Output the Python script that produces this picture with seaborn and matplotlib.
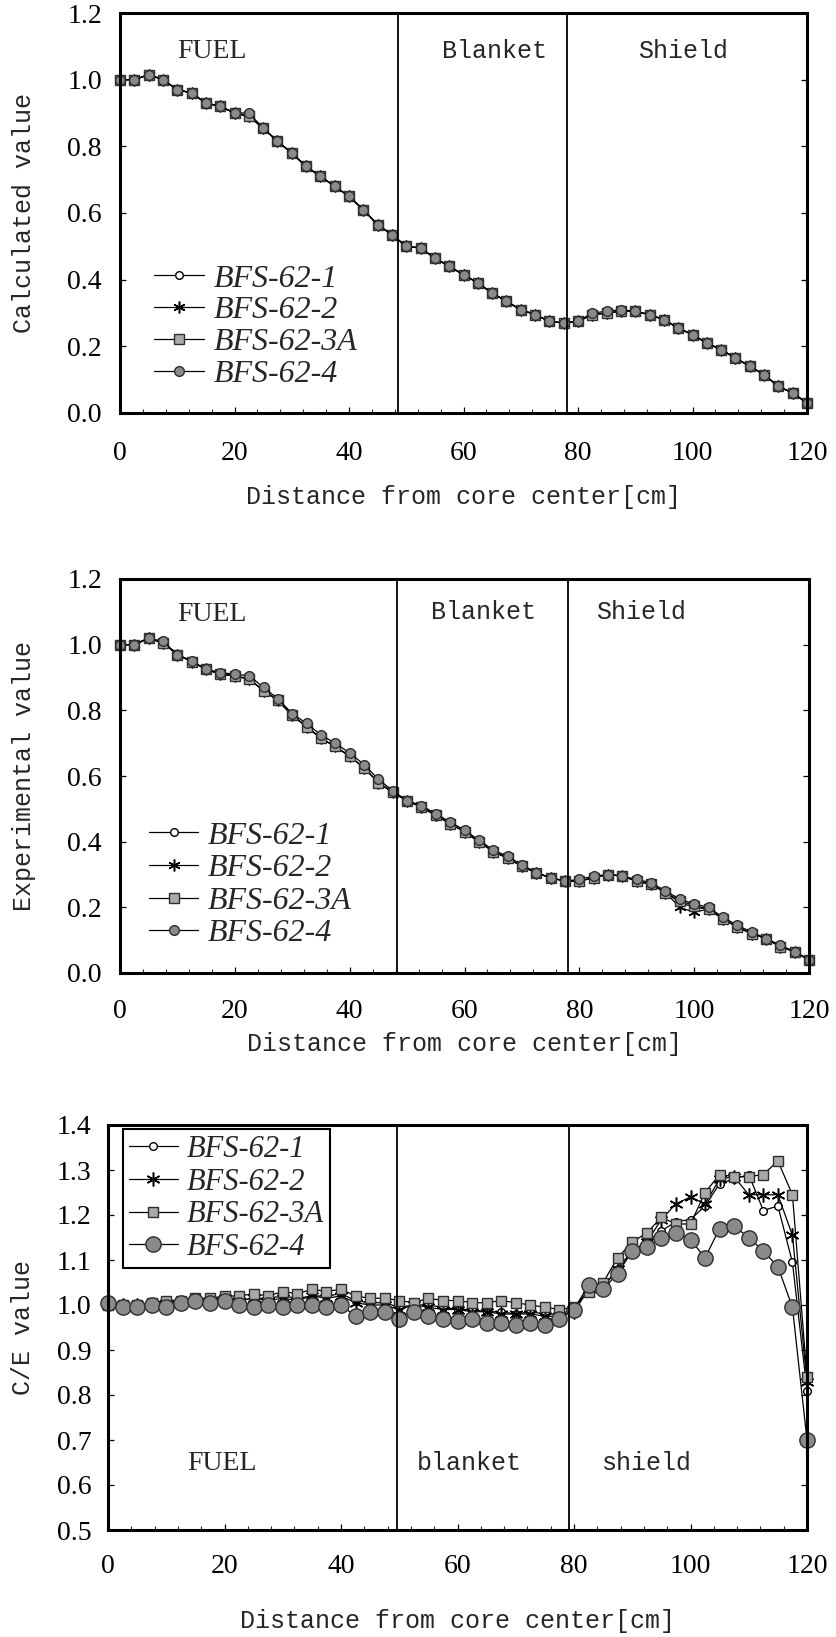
import matplotlib
matplotlib.use("Agg")
import matplotlib.pyplot as plt
import seaborn as sns
from matplotlib.ticker import MultipleLocator, FormatStrFormatter

# ---------------- data ----------------
x_cm = [0, 2.5, 5, 7.5, 10, 12.5, 15, 17.5, 20, 22.5, 25, 27.5, 30, 32.5, 35, 37.5,
        40, 42.5, 45, 47.5, 50, 52.5, 55, 57.5, 60, 62.5, 65, 67.5, 70, 72.5, 75, 77.5,
        80, 82.5, 85, 87.5, 90, 92.5, 95, 97.5, 100, 102.5, 105, 107.5, 110, 112.5, 115,
        117.5, 120]

series_names = ["BFS-62-1", "BFS-62-2", "BFS-62-3A", "BFS-62-4"]

# Calculated value
calc_1 = [1.00, 1.00, 1.015, 1.00, 0.97, 0.96, 0.93, 0.92, 0.90, 0.89, 0.855, 0.815, 0.78, 0.74,
          0.71, 0.68, 0.65, 0.61, 0.565, 0.535, 0.50, 0.495, 0.465, 0.44, 0.415, 0.39, 0.36,
          0.335, 0.31, 0.295, 0.275, 0.27, 0.275, 0.295, 0.30, 0.305, 0.305, 0.295, 0.28,
          0.255, 0.235, 0.21, 0.19, 0.165, 0.14, 0.115, 0.08, 0.06, 0.03]
calc_2 = [1.00, 1.00, 1.015, 1.00, 0.97, 0.96, 0.93, 0.92, 0.90, 0.89, 0.855, 0.815, 0.78, 0.74,
          0.71, 0.68, 0.65, 0.61, 0.565, 0.535, 0.50, 0.495, 0.465, 0.44, 0.415, 0.39, 0.36,
          0.335, 0.31, 0.295, 0.275, 0.27, 0.275, 0.295, 0.30, 0.305, 0.305, 0.295, 0.28,
          0.255, 0.235, 0.21, 0.19, 0.165, 0.14, 0.115, 0.08, 0.06, 0.03]
calc_3A = [1.00, 1.00, 1.015, 1.00, 0.97, 0.96, 0.93, 0.92, 0.90, 0.89, 0.855, 0.815, 0.78, 0.74,
           0.71, 0.68, 0.65, 0.61, 0.565, 0.535, 0.50, 0.495, 0.465, 0.44, 0.415, 0.39, 0.36,
           0.335, 0.31, 0.295, 0.275, 0.27, 0.275, 0.295, 0.30, 0.305, 0.305, 0.295, 0.28,
           0.255, 0.235, 0.21, 0.19, 0.165, 0.14, 0.115, 0.08, 0.06, 0.03]
calc_4 = [1.00, 1.00, 1.015, 1.00, 0.97, 0.96, 0.93, 0.92, 0.90, 0.90, 0.855, 0.815, 0.78, 0.74,
          0.71, 0.68, 0.65, 0.61, 0.565, 0.535, 0.50, 0.495, 0.465, 0.44, 0.415, 0.39, 0.36,
          0.335, 0.31, 0.295, 0.275, 0.27, 0.275, 0.30, 0.305, 0.31, 0.305, 0.295, 0.28,
          0.255, 0.235, 0.21, 0.19, 0.165, 0.14, 0.115, 0.08, 0.06, 0.03]

# Experimental value
exp_1 = [1.00, 1.00, 1.02, 1.005, 0.97, 0.948, 0.925, 0.91, 0.905, 0.895, 0.86, 0.83, 0.785,
         0.75, 0.715, 0.69, 0.66, 0.625, 0.58, 0.55, 0.525, 0.505, 0.48, 0.455, 0.43, 0.40,
         0.37, 0.35, 0.325, 0.305, 0.29, 0.28, 0.28, 0.29, 0.30, 0.295, 0.28, 0.27, 0.245,
         0.215, 0.20, 0.195, 0.165, 0.14, 0.12, 0.105, 0.08, 0.065, 0.04]
exp_2 = [1.00, 1.00, 1.02, 1.005, 0.97, 0.948, 0.925, 0.91, 0.905, 0.895, 0.86, 0.83, 0.785,
         0.75, 0.715, 0.69, 0.66, 0.625, 0.58, 0.55, 0.525, 0.505, 0.48, 0.455, 0.43, 0.40,
         0.37, 0.35, 0.325, 0.305, 0.29, 0.28, 0.28, 0.29, 0.30, 0.295, 0.28, 0.27, 0.245,
         0.20, 0.185, 0.195, 0.165, 0.14, 0.12, 0.105, 0.08, 0.065, 0.04]
exp_3A = [1.00, 1.00, 1.02, 1.005, 0.97, 0.948, 0.925, 0.91, 0.905, 0.895, 0.86, 0.83, 0.785,
          0.75, 0.715, 0.69, 0.66, 0.625, 0.58, 0.55, 0.525, 0.505, 0.48, 0.455, 0.43, 0.40,
          0.37, 0.35, 0.325, 0.305, 0.29, 0.28, 0.28, 0.29, 0.30, 0.295, 0.28, 0.27, 0.245,
          0.22, 0.205, 0.195, 0.165, 0.14, 0.12, 0.105, 0.08, 0.065, 0.04]
exp_4 = [1.00, 1.00, 1.02, 1.01, 0.97, 0.95, 0.925, 0.915, 0.91, 0.905, 0.87, 0.835, 0.79,
         0.76, 0.725, 0.70, 0.67, 0.635, 0.59, 0.555, 0.525, 0.51, 0.485, 0.46, 0.435, 0.405,
         0.375, 0.355, 0.33, 0.305, 0.29, 0.28, 0.285, 0.295, 0.30, 0.295, 0.285, 0.275, 0.25,
         0.225, 0.21, 0.20, 0.17, 0.145, 0.125, 0.105, 0.085, 0.065, 0.04]

# C/E value
ce_1 = [1.00, 1.00, 1.00, 1.005, 1.005, 1.01, 1.01, 1.015, 1.015, 1.01, 1.015, 1.015, 1.02,
        1.015, 1.02, 1.02, 1.025, 1.01, 1.005, 1.005, 0.995, 1.00, 1.00, 0.995, 0.99, 0.99,
        0.985, 0.985, 0.98, 0.985, 0.98, 0.98, 0.99, 1.035, 1.04, 1.08, 1.12, 1.14, 1.165,
        1.185, 1.19, 1.22, 1.27, 1.28, 1.29, 1.21, 1.22, 1.095, 0.81]
ce_2 = [1.00, 1.00, 1.00, 1.00, 1.005, 1.005, 1.01, 1.01, 1.015, 1.01, 1.015, 1.01, 1.015,
        1.01, 1.02, 1.015, 1.02, 1.005, 1.00, 1.00, 0.99, 1.00, 0.995, 0.99, 0.99, 0.985,
        0.985, 0.98, 0.98, 0.98, 0.975, 0.975, 0.985, 1.035, 1.04, 1.08, 1.12, 1.14, 1.19,
        1.225, 1.24, 1.225, 1.28, 1.285, 1.245, 1.245, 1.245, 1.155, 0.83]
ce_3A = [1.00, 1.00, 1.00, 1.005, 1.01, 1.01, 1.015, 1.015, 1.02, 1.02, 1.025, 1.02, 1.03,
         1.025, 1.035, 1.03, 1.035, 1.02, 1.015, 1.015, 1.01, 1.005, 1.015, 1.01, 1.01, 1.005,
         1.005, 1.01, 1.005, 1.00, 0.995, 0.99, 0.995, 1.03, 1.05, 1.105, 1.14, 1.16, 1.195,
         1.18, 1.18, 1.25, 1.29, 1.285, 1.285, 1.29, 1.32, 1.245, 0.84]
ce_4 = [1.005, 0.995, 0.995, 1.00, 0.995, 1.005, 1.01, 1.005, 1.01, 1.00, 0.995, 1.00, 0.995,
        1.00, 1.00, 0.995, 1.00, 0.975, 0.985, 0.985, 0.97, 0.985, 0.975, 0.97, 0.965, 0.97,
        0.96, 0.96, 0.955, 0.96, 0.955, 0.97, 0.99, 1.045, 1.035, 1.07, 1.12, 1.13, 1.15,
        1.16, 1.145, 1.105, 1.17, 1.175, 1.15, 1.12, 1.085, 0.995, 0.70]

y_ticks_top = [0.0, 0.2, 0.4, 0.6, 0.8, 1.0, 1.2]
y_ticks_ce = [0.5, 0.6, 0.7, 0.8, 0.9, 1.0, 1.1, 1.2, 1.3, 1.4]
x_ticks = [0, 20, 40, 60, 80, 100, 120]

x_label = "Distance from core center[cm]"
y_labels = ["Calculated value", "Experimental value", "C/E value"]
region_labels_top = ["FUEL", "Blanket", "Shield"]
region_labels_ce = ["FUEL", "blanket", "shield"]

# ---------------- style ----------------
sns.set_theme(style="white")
plt.rcParams['font.family'] = ['Liberation Serif', 'DejaVu Sans']
MONO = ['Liberation Mono', 'DejaVu Sans Mono']

fig = plt.figure(figsize=(8.36, 16.37), dpi=100)
W, H = 836.0, 1637.0


def add_axes(left, right, top, bottom):
    return fig.add_axes([left / W, 1 - bottom / H, (right - left) / W, (bottom - top) / H])


ax1 = add_axes(120, 807, 13, 413)
ax2 = add_axes(120, 809, 579, 973)
ax3 = add_axes(108, 807, 1125, 1530)

GREY_SQ = '#a9a9a9'
GREY_CI = '#8a8a8a'
EDGE = '#2e2e2e'


def marker_styles(big):
    return {
        "BFS-62-1": dict(marker='o', markersize=5.5, markerfacecolor='white',
                         markeredgecolor='black', markeredgewidth=1.0),
        "BFS-62-2": dict(marker=(6, 2, 0), markersize=10 if big else 8.5,
                         markerfacecolor='black', markeredgecolor='black', markeredgewidth=1.1),
        "BFS-62-3A": dict(marker='s', markersize=6.5 if big else 7, markerfacecolor=GREY_SQ,
                          markeredgecolor=EDGE, markeredgewidth=1.0),
        "BFS-62-4": dict(marker='o', markersize=11 if big else 7, markerfacecolor=GREY_CI,
                         markeredgecolor=EDGE, markeredgewidth=1.0),
    }


panels = [
    (ax1, [calc_1, calc_2, calc_3A, calc_4], (0, 1.2), y_ticks_top, False),
    (ax2, [exp_1, exp_2, exp_3A, exp_4], (0, 1.2), y_ticks_top, False),
    (ax3, [ce_1, ce_2, ce_3A, ce_4], (0.5, 1.4), y_ticks_ce, True),
]

for ax, data, ylim, yt, big in panels:
    styles = marker_styles(big)
    for name, vals in zip(series_names, data):
        sns.lineplot(x=x_cm, y=vals, ax=ax, color='black', linewidth=0.9, sort=False,
                     label=name, clip_on=False, **styles[name])
    ax.set_xlim(0, 120)
    ax.set_ylim(*ylim)
    ax.set_xticks(x_ticks)
    ax.set_yticks(yt)
    ax.yaxis.set_major_formatter(FormatStrFormatter('%.1f'))
    ax.xaxis.set_minor_locator(MultipleLocator(4))
    for sp in ax.spines.values():
        sp.set_linewidth(2.2)
        sp.set_color('black')
    ax.tick_params(axis='both', which='major', direction='in', length=4, width=0.9,
                   labelsize=20, colors='black')
    ax.tick_params(axis='x', which='minor', direction='in', length=3, width=0.8, bottom=True)
    ax.tick_params(axis='y', which='major', left=True, right=True)
    ax.tick_params(axis='x', which='major', bottom=True)
    ax.grid(False)
    ax.set_facecolor('white')

# tick label padding
ax1.tick_params(axis='x', pad=20)
ax2.tick_params(axis='x', pad=19)
ax3.tick_params(axis='x', pad=17)
ax1.tick_params(axis='y', pad=13)
ax2.tick_params(axis='y', pad=13)
ax3.tick_params(axis='y', pad=12)

# region boundaries
for ax, b1, b2 in [(ax1, 48.5, 78.1), (ax2, 48.3, 78.0), (ax3, 49.6, 79.2)]:
    ax.axvline(b1, color='black', linewidth=1.3)
    ax.axvline(b2, color='black', linewidth=1.3)

# region labels
ax1.text(16, 1.085, region_labels_top[0], ha='center', va='center', fontsize=20)
ax1.text(65.5, 1.085, region_labels_top[1], ha='center', va='center', fontsize=18, family=MONO)
ax1.text(98.3, 1.085, region_labels_top[2], ha='center', va='center', fontsize=18, family=MONO)
ax2.text(16, 1.093, region_labels_top[0], ha='center', va='center', fontsize=20)
ax2.text(63.3, 1.10, region_labels_top[1], ha='center', va='center', fontsize=18, family=MONO)
ax2.text(90.7, 1.10, region_labels_top[2], ha='center', va='center', fontsize=18, family=MONO)
ax3.text(19.5, 0.648, region_labels_ce[0], ha='center', va='center', fontsize=20)
ax3.text(62.0, 0.648, region_labels_ce[1], ha='center', va='center', fontsize=18, family=MONO)
ax3.text(92.6, 0.648, region_labels_ce[2], ha='center', va='center', fontsize=18, family=MONO)

# axis labels
for ax, yl, xpos, ypos in [(ax1, y_labels[0], -0.122, -0.18),
                           (ax2, y_labels[1], -0.122, -0.15),
                           (ax3, y_labels[2], -0.105, -0.195)]:
    ax.set_xlabel(x_label, fontsize=18, family=MONO)
    ax.set_ylabel(yl, fontsize=18, family=MONO)
    ax.yaxis.set_label_coords(xpos, 0.5)
    ax.xaxis.set_label_coords(0.5, ypos)

# legends
leg_font = dict(family=['Liberation Serif'], style='italic', size=23)
ax1.legend(loc='upper left', bbox_to_anchor=(0.05, 0.372), frameon=False, borderpad=0,
           borderaxespad=0, handlelength=1.55, handletextpad=0.3, labelspacing=0.08,
           prop=leg_font)
ax2.legend(loc='upper left', bbox_to_anchor=(0.042, 0.385), frameon=False, borderpad=0,
           borderaxespad=0, handlelength=1.55, handletextpad=0.3, labelspacing=0.1,
           prop=leg_font)
leg3 = ax3.legend(loc='upper left', bbox_to_anchor=(0.021, 0.99), frameon=True,
                  fancybox=False, borderpad=0.2, borderaxespad=0, handlelength=1.6,
                  handletextpad=0.3, labelspacing=0.12,
                  prop=dict(family=['Liberation Serif'], style='italic', size=22))
leg3.get_frame().set_edgecolor('black')
leg3.get_frame().set_linewidth(1.5)
leg3.get_frame().set_facecolor('white')
leg3.get_frame().set_alpha(1)

fig.savefig("out.png", dpi=100, facecolor='white')
